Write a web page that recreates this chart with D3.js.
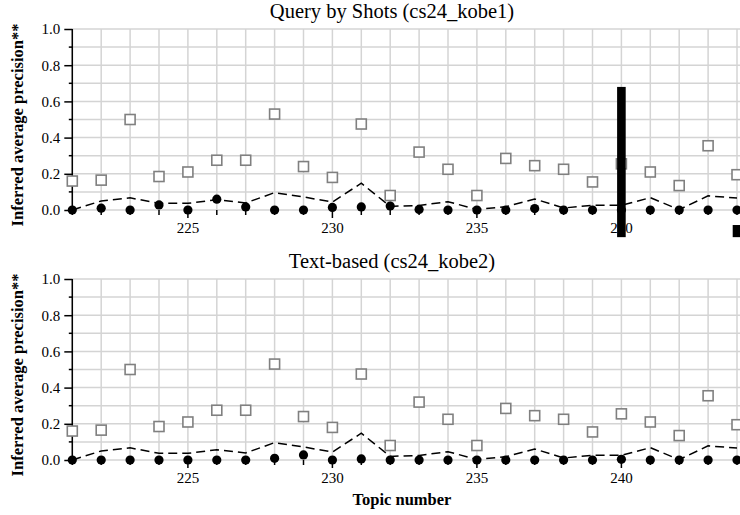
<!DOCTYPE html>
<html>
<head>
<meta charset="utf-8">
<script src="https://cdn.jsdelivr.net/npm/d3@7"></script>
<style>
  body { margin: 0; background: #fff; }
  svg text { font-family: "Liberation Serif", "Times New Roman", Times, "DejaVu Serif", serif; }
</style>
</head>
<body>
<svg id="chart" width="740" height="515"></svg>
<script>
// topics on the x axis
const topics = d3.range(221, 245);
const xTickLabels = [225, 230, 235, 240];
const yTickLabels = [0, 0.2, 0.4, 0.6, 0.8, 1.0];

// best run per topic (open squares), same in both panels
const bestAP = [0.16, 0.165, 0.50, 0.185, 0.21, 0.275, 0.275, 0.53, 0.24, 0.18, 0.475,
  0.08, 0.32, 0.225, 0.08, 0.285, 0.245, 0.225, 0.155, 0.255, 0.21, 0.135, 0.355, 0.195];
// median per topic (dashed line)
const medianAP = [0.0, 0.05, 0.067, 0.037, 0.037, 0.057, 0.039, 0.096, 0.072, 0.044, 0.148,
  0.02, 0.025, 0.046, 0.003, 0.018, 0.061, 0.011, 0.026, 0.026, 0.068, 0.002, 0.078, 0.066];
// run values (filled dots)
const kobe1AP = [0.0, 0.01, 0.0, 0.028, 0.0, 0.06, 0.017, 0.0, 0.0, 0.014, 0.017,
  0.022, 0.003, 0.0, 0.0, 0.0, 0.008, 0.0, 0.0, 0.0, 0.0, 0.0, 0.0, 0.0];
const kobe2AP = [0.0, 0.0, 0.0, 0.0, 0.0, 0.0, 0.0, 0.009, 0.028, 0.0, 0.006,
  0.0, 0.0, 0.0, 0.0, 0.0, 0.0, 0.0, 0.0, 0.004, 0.0, 0.0, 0.0, 0.0];

// black blocks drawn over the first panel
const blocks = [
  { topic: 240, top: 0.68, bottom: -0.15 },
  { topic: 244, top: -0.083, bottom: -0.15 }
];

const panels = [
  { title: "Query by Shots (cs24_kobe1)", run: kobe1AP, top: 29, blocks: blocks },
  { title: "Text-based (cs24_kobe2)", run: kobe2AP, top: 279, blocks: [] }
];

const svg = d3.select("#chart");
const plotH = 181;
const x = d3.scaleLinear().domain([221, 244]).range([72.3, 737]);

panels.forEach(function(p) {
  const y = d3.scaleLinear().domain([0, 1]).range([p.top + plotH, p.top]);
  const g = svg.append("g");

  // grid
  g.selectAll("line.hgrid").data(d3.range(0, 11).map(d => d / 10)).enter()
    .append("line")
      .attr("x1", x(221)).attr("x2", 740)
      .attr("y1", d => y(d)).attr("y2", d => y(d))
      .attr("stroke", "#d4d4d4").attr("stroke-width", 1.5);
  g.selectAll("line.vgrid").data(topics).enter()
    .append("line")
      .attr("x1", d => x(d)).attr("x2", d => x(d))
      .attr("y1", y(0)).attr("y2", y(1))
      .attr("stroke", "#d4d4d4").attr("stroke-width", 1.5);

  // y axis
  const yAxis = d3.axisLeft(y).tickValues(yTickLabels).tickFormat(d3.format(".1f"))
    .tickSize(8).tickPadding(4);
  const ya = g.append("g").attr("transform", `translate(${x(221)},0)`).call(yAxis);
  ya.select(".domain").attr("stroke", "#000").attr("stroke-width", 1.5).attr("d", `M0,${y(1)}V${y(0)}`);
  ya.selectAll(".tick line").attr("stroke-width", 1.5);
  ya.selectAll(".tick text").attr("font-size", 15).attr("fill", "#000");
  g.selectAll("line.yminor").data([0.1, 0.3, 0.5, 0.7, 0.9]).enter()
    .append("line")
      .attr("x1", x(221) - 3.5).attr("x2", x(221))
      .attr("y1", d => y(d)).attr("y2", d => y(d))
      .attr("stroke", "#000").attr("stroke-width", 1.5);

  // x ticks
  g.selectAll("line.xminor").data(topics).enter()
    .append("line")
      .attr("x1", d => x(d)).attr("x2", d => x(d))
      .attr("y1", y(0)).attr("y2", d => y(0) + (xTickLabels.includes(d) ? 8 : 5))
      .attr("stroke", "#000").attr("stroke-width", 1.5);
  g.selectAll("text.xlab").data(xTickLabels).enter()
    .append("text")
      .attr("x", d => x(d)).attr("y", y(0) + 23)
      .attr("text-anchor", "middle").attr("font-size", 15)
      .text(d => d);

  // median line
  const line = d3.line().x((d, i) => x(topics[i])).y(d => y(d));
  g.append("path").datum(medianAP)
    .attr("d", line)
    .attr("fill", "none").attr("stroke", "#000").attr("stroke-width", 1.5)
    .attr("stroke-dasharray", "9,5");

  // best squares
  g.selectAll("rect.best").data(bestAP).enter()
    .append("rect")
      .attr("x", (d, i) => x(topics[i]) - 5).attr("y", d => y(d) - 5)
      .attr("width", 10).attr("height", 10)
      .attr("fill", "#fff").attr("stroke", "#808080").attr("stroke-width", 1.6);

  // run dots
  g.selectAll("circle.run").data(p.run).enter()
    .append("circle")
      .attr("cx", (d, i) => x(topics[i])).attr("cy", d => y(d))
      .attr("r", 4.6).attr("fill", "#000");

  // overlay blocks
  g.selectAll("rect.block").data(p.blocks).enter()
    .append("rect")
      .attr("x", d => x(d.topic) - 4.3).attr("width", 8.6)
      .attr("y", d => y(d.top)).attr("height", d => y(d.bottom) - y(d.top))
      .attr("fill", "#000");

  // title
  svg.append("text")
    .attr("x", 392).attr("y", p.top - 11)
    .attr("text-anchor", "middle").attr("font-size", 20.5)
    .text(p.title);

  // y label
  svg.append("text")
    .attr("transform", `translate(23,${p.top + 96}) rotate(-90)`)
    .attr("text-anchor", "middle").attr("font-size", 16.5).attr("font-weight", "bold")
    .text("Inferred average precision**");
});

svg.append("text")
  .attr("x", 402).attr("y", 505)
  .attr("text-anchor", "middle").attr("font-size", 16.5).attr("font-weight", "bold")
  .text("Topic number");
</script>
</body>
</html>
